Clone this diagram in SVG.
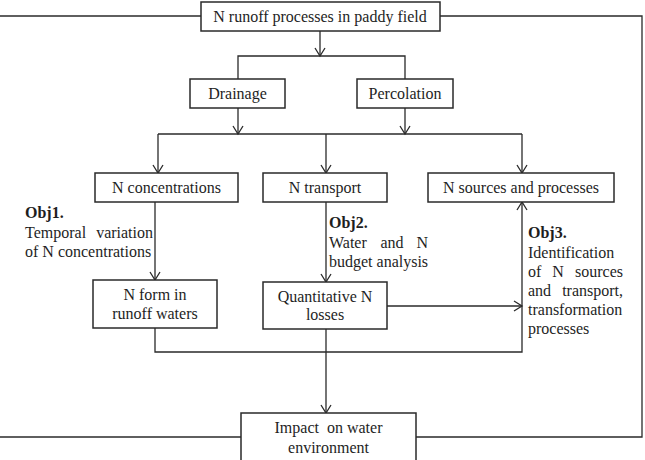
<svg xmlns="http://www.w3.org/2000/svg" width="645" height="460" viewBox="0 0 645 460" font-family="'Liberation Serif', serif">
  <defs>
    <marker id="arr" markerUnits="userSpaceOnUse" markerWidth="14" markerHeight="14" refX="10" refY="6" orient="auto">
      <path d="M2,1 L10,6 L2,11" fill="none" stroke="#2a2a2a" stroke-width="1.3"/>
    </marker>
  </defs>
  <style>
    .box { fill: #fff; stroke: #2a2a2a; stroke-width: 1.5; }
    .ln { fill: none; stroke: #2a2a2a; stroke-width: 1.3; }
    .lbl { font-size: 16px; fill: #1e1e1e; text-anchor: middle; white-space: pre; }
    .obj { font-size: 16px; fill: #1e1e1e; }
    .bold { font-weight: bold; }
  </style>
  <rect width="645" height="460" fill="#fff"/>

  <!-- connectors -->
  <g id="connectors">
    <!-- outer feedback loop -->
    <path class="ln" d="M0,16 H201"/>
    <path class="ln" d="M440,16 H642 V437 H416"/>
    <path class="ln" d="M0,437 H241"/>
    <!-- runoff to drainage / percolation -->
    <path class="ln" d="M320,31 V56" marker-end="url(#arr)"/>
    <path class="ln" d="M238,79 V56 H405 V79"/>
    <!-- drainage / percolation to bus -->
    <path class="ln" d="M238,108 V134" marker-end="url(#arr)"/>
    <path class="ln" d="M405,108 V134" marker-end="url(#arr)"/>
    <path class="ln" d="M158,134 H522"/>
    <path class="ln" d="M158,134 V173" marker-end="url(#arr)"/>
    <path class="ln" d="M326,134 V173" marker-end="url(#arr)"/>
    <path class="ln" d="M522,134 V173" marker-end="url(#arr)"/>
    <!-- second level -->
    <path class="ln" d="M155,202 V280" marker-end="url(#arr)"/>
    <path class="ln" d="M326,202 V282" marker-end="url(#arr)"/>
    <path class="ln" d="M387,306 H522" marker-end="url(#arr)"/>
    <!-- results collected to impact and sources -->
    <path class="ln" d="M155,328 V352 H522 V202" marker-end="url(#arr)"/>
    <path class="ln" d="M326,329 V413" marker-end="url(#arr)"/>
  </g>

  <g id="runoff">
    <rect class="box" x="201" y="2" width="239" height="29"/>
    <text class="lbl" x="320" y="22">N runoff processes in paddy field</text>
  </g>
  <g id="drainage">
    <rect class="box" x="190" y="79" width="95" height="29"/>
    <text class="lbl" x="237.5" y="99">Drainage</text>
  </g>
  <g id="percolation">
    <rect class="box" x="357" y="79" width="96" height="29"/>
    <text class="lbl" x="405" y="99">Percolation</text>
  </g>
  <g id="concentrations">
    <rect class="box" x="95" y="173" width="143" height="29"/>
    <text class="lbl" x="166.5" y="193">N concentrations</text>
  </g>
  <g id="transport">
    <rect class="box" x="263" y="173" width="124" height="29"/>
    <text class="lbl" x="325" y="193">N transport</text>
  </g>
  <g id="sources">
    <rect class="box" x="428" y="173" width="186" height="29"/>
    <text class="lbl" x="521" y="193">N sources and processes</text>
  </g>
  <g id="nform">
    <rect class="box" x="93" y="280" width="124" height="48"/>
    <text class="lbl" x="155" y="300">N form in</text>
    <text class="lbl" x="155" y="319">runoff waters</text>
  </g>
  <g id="losses">
    <rect class="box" x="263" y="282" width="124" height="47"/>
    <text class="lbl" x="325" y="302">Quantitative N</text>
    <text class="lbl" x="325" y="320">losses</text>
  </g>
  <g id="impact">
    <rect class="box" x="241" y="413" width="175" height="50"/>
    <text class="lbl" x="328.5" y="433">Impact  on water</text>
    <text class="lbl" x="328.5" y="453">environment</text>
  </g>

  <!-- objective notes (justified lines spread word by word) -->
  <g id="obj1">
    <text class="obj bold" x="25" y="218">Obj1.</text>
    <text class="obj" y="238"><tspan x="25">Temporal</tspan><tspan x="153" text-anchor="end">variation</tspan></text>
    <text class="obj" x="25" y="257">of N concentrations</text>
  </g>
  <g id="obj2">
    <text class="obj bold" x="329" y="228">Obj2.</text>
    <text class="obj" y="248"><tspan x="329">Water</tspan><tspan x="392" text-anchor="middle">and</tspan><tspan x="428" text-anchor="end">N</tspan></text>
    <text class="obj" x="329" y="267">budget analysis</text>
  </g>
  <g id="obj3">
    <text class="obj bold" x="528" y="238">Obj3.</text>
    <text class="obj" x="528" y="258">Identification</text>
    <text class="obj" y="277"><tspan x="528">of</tspan><tspan x="558" text-anchor="middle">N</tspan><tspan x="623" text-anchor="end">sources</tspan></text>
    <text class="obj" y="296"><tspan x="528">and</tspan><tspan x="623" text-anchor="end">transport,</tspan></text>
    <text class="obj" x="528" y="315">transformation</text>
    <text class="obj" x="528" y="334">processes</text>
  </g>
</svg>
